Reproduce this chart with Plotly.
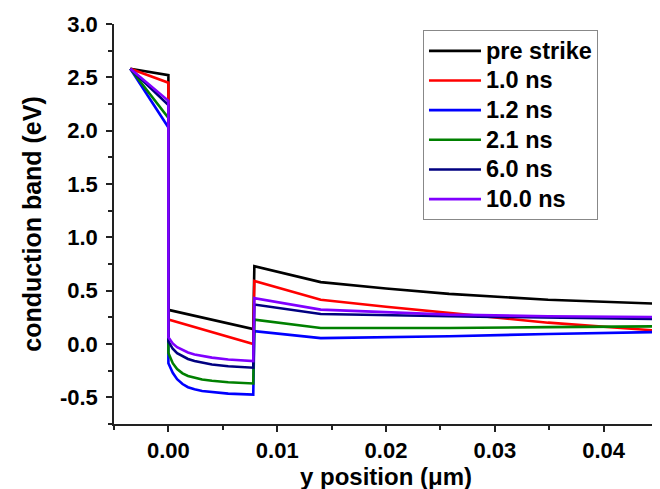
import plotly.graph_objects as go

# ---- data ----
series_names = ["pre strike", "1.0 ns", "1.2 ns", "2.1 ns", "6.0 ns", "10.0 ns"]
series_colors = ["#000000", "#FF0000", "#0000FF", "#008000", "#000080", "#8000FF"]

x_pre = [-0.0035, 0.0, 0.0, 0.0078, 0.0079, 0.0140, 0.0200, 0.0258, 0.0349, 0.045]
y_pre = [2.58, 2.52, 0.32, 0.14, 0.73, 0.58, 0.52, 0.47, 0.415, 0.378]

x_10 = [-0.0035, 0.0, 0.0, 0.0078, 0.0079, 0.0140, 0.0200, 0.0258, 0.0349, 0.045]
y_10 = [2.58, 2.45, 0.23, 0.0, 0.59, 0.415, 0.35, 0.29, 0.20, 0.125]

x_12 = [-0.0035, 0.0, 0.0, 0.0004, 0.0008, 0.0013, 0.0018, 0.0024, 0.0031, 0.0040, 0.0055, 0.0078, 0.0079, 0.0140, 0.0258, 0.0349, 0.045]
y_12 = [2.58, 2.03, -0.18, -0.27, -0.33, -0.375, -0.405, -0.425, -0.44, -0.452, -0.465, -0.475, 0.12, 0.055, 0.072, 0.094, 0.112]

x_21 = [-0.0035, 0.0, 0.0, 0.0004, 0.0008, 0.0013, 0.0018, 0.0024, 0.0031, 0.0040, 0.0055, 0.0078, 0.0079, 0.0140, 0.0258, 0.0349, 0.045]
y_21 = [2.58, 2.12, -0.085, -0.18, -0.235, -0.275, -0.30, -0.318, -0.333, -0.345, -0.358, -0.37, 0.228, 0.15, 0.15, 0.158, 0.166]

x_60 = [-0.0035, 0.0, 0.0, 0.0004, 0.0008, 0.0013, 0.0018, 0.0024, 0.0031, 0.0040, 0.0055, 0.0078, 0.0079, 0.0140, 0.0258, 0.0349, 0.045]
y_60 = [2.58, 2.24, 0.025, -0.045, -0.085, -0.115, -0.14, -0.16, -0.177, -0.192, -0.208, -0.222, 0.37, 0.281, 0.26, 0.245, 0.234]

x_100 = [-0.0035, 0.0, 0.0, 0.0004, 0.0008, 0.0013, 0.0018, 0.0024, 0.0031, 0.0040, 0.0055, 0.0078, 0.0079, 0.0140, 0.0258, 0.0349, 0.045]
y_100 = [2.58, 2.28, 0.063, 0.005, -0.03, -0.058, -0.08, -0.098, -0.114, -0.128, -0.145, -0.16, 0.43, 0.322, 0.275, 0.26, 0.253]

series_x = [x_pre, x_10, x_12, x_21, x_60, x_100]
series_y = [y_pre, y_10, y_12, y_21, y_60, y_100]

y_tickvals = [-0.5, 0.0, 0.5, 1.0, 1.5, 2.0, 2.5, 3.0]
y_ticktext = ["-0.5", "0.0", "0.5", "1.0", "1.5", "2.0", "2.5", "3.0"]
x_tickvals = [0.00, 0.01, 0.02, 0.03, 0.04]
x_ticktext = ["0.00", "0.01", "0.02", "0.03", "0.04"]

FONT = "Liberation Sans, Arial, sans-serif"
LEGEND_TEXT_PX = 23.5

fig = go.Figure()
for name, color, xs, ys in zip(series_names, series_colors, series_x, series_y):
    fig.add_trace(go.Scatter(
        x=xs, y=ys, mode="lines",
        name=f"<span style='font-size:{LEGEND_TEXT_PX}px'>{name}</span>",
        line=dict(color=color, width=2.6)))

axis_common = dict(
    showline=True, linecolor="#222222", linewidth=1.5,
    ticks="outside", ticklen=6, tickwidth=1.5, tickcolor="#222222",
    showgrid=False, zeroline=False, mirror=False, automargin=False,
    tickfont=dict(family=FONT, size=22, color="#000000", weight="bold"),
)

fig.update_layout(
    width=660, height=489,
    margin=dict(l=106, r=10, t=16, b=73),
    paper_bgcolor="white", plot_bgcolor="white",
    font=dict(family=FONT, color="#000000"),
    xaxis=dict(
        range=[-0.005, 0.045], tickmode="array",
        tickvals=x_tickvals, ticktext=x_ticktext,
        minor=dict(tick0=0, dtick=0.005, ticks="outside", ticklen=4,
                   tickwidth=1.5, tickcolor="#222222"),
        title=dict(text="y position (μm)", standoff=0,
                   font=dict(family=FONT, size=24, weight="bold")),
        **axis_common,
    ),
    yaxis=dict(
        range=[-0.75, 3.0], tickmode="array",
        tickvals=y_tickvals, ticktext=y_ticktext,
        ticklabelstandoff=4,
        minor=dict(tick0=0, dtick=0.25, ticks="outside", ticklen=4,
                   tickwidth=1.5, tickcolor="#222222"),
        title=dict(text="conduction band (eV)", standoff=11,
                   font=dict(family=FONT, size=25, weight="bold")),
        **axis_common,
    ),
    legend=dict(
        x=0.568, y=0.985, xanchor="left", yanchor="top",
        bgcolor="white", bordercolor="#888888", borderwidth=1,
        font=dict(family=FONT, size=20.5, weight="bold", color="#000000"),
        itemwidth=52, tracegroupgap=0,
    ),
    showlegend=True,
)

fig.write_html("out.html")
